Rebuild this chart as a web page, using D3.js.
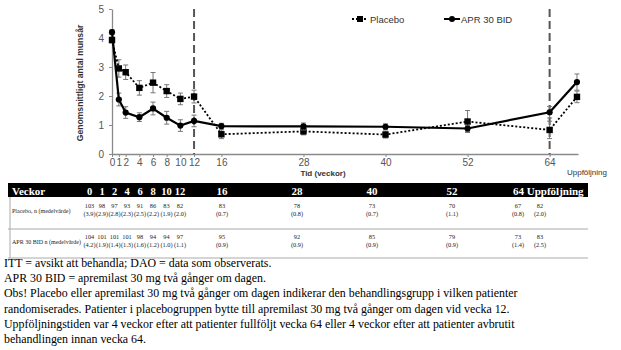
<!DOCTYPE html>
<html><head><meta charset="utf-8">
<script src="https://cdn.jsdelivr.net/npm/d3@7"></script>
<style>body{margin:0;background:#fff}svg{display:block}</style>
</head><body>
<svg id="c" width="621" height="350"></svg>
<script>
// ---- data ----
const weeks = [0,1,2,4,6,8,10,12,16,28,40,52,64,68];
const xTickValues = [0,1,2,4,6,8,10,12,16,28,40,52,64];
const followUpLabel = "Uppföljning";
const yTicks = [0,1,2,3,4,5];
const placeboMean = [3.93,2.95,2.82,2.28,2.46,2.17,1.90,1.98,0.68,0.78,0.67,1.12,0.83,1.97];
const placeboErr  = [0.10,0.30,0.25,0.25,0.35,0.22,0.20,0.22,0.15,0.12,0.12,0.38,0.30,0.20];
const aprMean     = [4.20,1.88,1.43,1.27,1.57,1.25,0.98,1.14,0.96,0.95,0.94,0.88,1.44,2.48];
const aprErr      = [0.08,0.22,0.20,0.15,0.22,0.22,0.20,0.20,0.10,0.12,0.10,0.10,0.20,0.28];
const dashedWeeks = [12,64];
const seriesNames = ["Placebo","APR 30 BID"];
const tableHeader = ["0","1","2","4","6","8","10","12","16","28","40","52","64 Uppföljning"];
const placeboN = ["103","98","97","93","91","86","83","82","83","78","73","70","67","82"];
const placeboTab = ["(3.9)","(2.9)","(2.8)","(2.3)","(2.5)","(2.2)","(1.9)","(2.0)","(0.7)","(0.8)","(0.7)","(1.1)","(0.8)","(2.0)"];
const aprN = ["104","101","101","101","98","94","94","97","95","92","85","79","73","83"];
const aprTab = ["(4.2)","(1.9)","(1.4)","(1.3)","(1.6)","(1.2)","(1.0)","(1.1)","(0.9)","(0.9)","(0.9)","(0.9)","(1.4)","(2.5)"];
const rowLabels = ["Placebo, n (medelvärde)","APR 30 BID n (medelvärde)"];
const footnotes = [
 "ITT = avsikt att behandla; DAO = data som observerats.",
 "APR 30 BID = apremilast 30 mg två gånger om dagen.",
 "Obs! Placebo eller apremilast 30 mg två gånger om dagen indikerar den behandlingsgrupp i vilken patienter",
 "randomiserades. Patienter i placebogruppen bytte till apremilast 30 mg två gånger om dagen vid vecka 12.",
 "Uppföljningstiden var 4 veckor efter att patienter fullföljt vecka 64 eller 4 veckor efter att patienter avbrutit",
 "behandlingen innan vecka 64."
];

// ---- chart ----
const svg = d3.select("#c");
const x = d3.scaleLinear().domain([0,68.15]).range([112,578]);
const y = d3.scaleLinear().domain([0,5]).range([154,9]);
const axisCol = "#8a8a8a", labCol = "#555";
const sans = "Arial, 'Liberation Sans', sans-serif";

const gx = svg.append("g").attr("transform","translate(0,154)")
  .call(d3.axisBottom(x).tickValues(xTickValues).tickSize(3).tickSizeOuter(0).tickPadding(2));
gx.select(".domain").attr("stroke",axisCol).attr("stroke-width",1.3);
gx.selectAll(".tick line").attr("stroke",axisCol);
gx.selectAll(".tick text").attr("fill",labCol).style("font-family",sans).style("font-size","10px");

const gy = svg.append("g").attr("transform","translate(112,0)")
  .call(d3.axisLeft(y).tickValues(yTicks).tickFormat(d3.format("d")).tickSize(3).tickSizeOuter(0).tickPadding(5));
gy.select(".domain").attr("stroke",axisCol).attr("stroke-width",1.3);
gy.selectAll(".tick line").attr("stroke",axisCol);
gy.selectAll(".tick text").attr("fill",labCol).style("font-family",sans).style("font-size","10px");

svg.append("text").attr("x",323).attr("y",176).attr("text-anchor","middle")
  .style("font-family",sans).style("font-size","8px").style("font-weight","bold").attr("fill","#333")
  .text("Tid (veckor)");
svg.append("text").attr("transform","translate(83,83) rotate(-90)").attr("text-anchor","middle")
  .style("font-family",sans).style("font-size","8.6px").style("font-weight","bold").attr("fill","#333")
  .text("Genomsnittligt antal munsår");
svg.append("text").attr("x",x(68)-10).attr("y",175)
  .style("font-family",sans).style("font-size","8px").attr("fill","#333").text(followUpLabel);

svg.selectAll(".vdash").data(dashedWeeks).join("line")
  .attr("x1",d=>x(d)).attr("x2",d=>x(d)).attr("y1",y(5)).attr("y2",y(0))
  .attr("stroke","#555").attr("stroke-width",2).attr("stroke-dasharray","8,4");

function drawSeries(mean, err, dash, marker){
  const pts = weeks.map((w,i)=>({w, m:mean[i], e:err[i]}));
  const g = svg.append("g");
  g.selectAll("line.eb").data(pts).join("line")
    .attr("x1",d=>x(d.w)).attr("x2",d=>x(d.w)).attr("y1",d=>y(d.m-d.e)).attr("y2",d=>y(d.m+d.e))
    .attr("stroke","#777").attr("stroke-width",1);
  [1,-1].forEach(s=>{
    g.selectAll(null).data(pts).join("line")
      .attr("x1",d=>x(d.w)-2.5).attr("x2",d=>x(d.w)+2.5).attr("y1",d=>y(d.m+s*d.e)).attr("y2",d=>y(d.m+s*d.e))
      .attr("stroke","#777").attr("stroke-width",1);
  });
  g.append("path").datum(pts)
    .attr("d",d3.line().x(d=>x(d.w)).y(d=>y(d.m)))
    .attr("fill","none").attr("stroke","#000").attr("stroke-width",dash?1.8:2.2)
    .attr("stroke-dasharray",dash?"2,2":null);
  if(marker==="square"){
    g.selectAll("rect").data(pts).join("rect")
      .attr("x",d=>x(d.w)-3.2).attr("y",d=>y(d.m)-3.2).attr("width",6.4).attr("height",6.4).attr("fill","#000");
  } else {
    g.selectAll("circle").data(pts).join("circle")
      .attr("cx",d=>x(d.w)).attr("cy",d=>y(d.m)).attr("r",3.1).attr("fill","#000");
  }
}
drawSeries(placeboMean, placeboErr, true, "square");
drawSeries(aprMean, aprErr, false, "circle");

// legend
const lg = svg.append("g");
lg.append("line").attr("x1",352).attr("x2",368).attr("y1",19).attr("y2",19)
  .attr("stroke","#000").attr("stroke-width",1.8).attr("stroke-dasharray","2,2");
lg.append("rect").attr("x",357).attr("y",16).attr("width",6).attr("height",6).attr("fill","#000");
lg.append("text").attr("x",370).attr("y",22.5).style("font-family",sans).style("font-size","9.5px").attr("fill","#333").text(seriesNames[0]);
lg.append("line").attr("x1",444).attr("x2",460).attr("y1",19).attr("y2",19).attr("stroke","#000").attr("stroke-width",2);
lg.append("circle").attr("cx",452).attr("cy",19).attr("r",3).attr("fill","#000");
lg.append("text").attr("x",461).attr("y",22.5).style("font-family",sans).style("font-size","9.5px").attr("fill","#333").text(seriesNames[1]);

// ---- table ----
const serif = "'Liberation Serif', 'Times New Roman', serif";
const colX = [89.5,102,114.5,127,140,153,166.5,180,222,297,372,452,518,540];
const hdrX = colX.slice(0,12).concat([513]);
svg.append("rect").attr("x",8).attr("y",183).attr("width",580).attr("height",14).attr("fill","#000");
svg.append("text").attr("x",12).attr("y",194.5).style("font-family",serif).style("font-size","11px")
  .style("font-weight","bold").attr("fill","#fff").text("Veckor");
svg.selectAll(".hdr").data(tableHeader).join("text")
  .attr("x",(d,i)=>hdrX[i]).attr("y",194.5).attr("text-anchor",(d,i)=>i===12?"start":"middle")
  .style("font-family",serif).style("font-size",(d,i)=>i<8?"10.5px":"11px").style("font-weight","bold").attr("fill","#fff").text(d=>d);
const gridCol = "#aaa";
svg.append("line").attr("x1",10).attr("x2",10).attr("y1",197).attr("y2",258).attr("stroke",gridCol);
svg.append("line").attr("x1",8).attr("x2",588).attr("y1",229).attr("y2",229).attr("stroke",gridCol);
svg.append("line").attr("x1",8).attr("x2",588).attr("y1",258).attr("y2",258).attr("stroke",gridCol);

const rows = [{n:placeboN, m:placeboTab, y:207.5, ly:213}, {n:aprN, m:aprTab, y:238.5, ly:243.5}];
rows.forEach((r,ri)=>{
  svg.append("text").attr("x",12).attr("y",r.ly).style("font-family",serif).style("font-size","6px")
    .attr("fill","#222").text(rowLabels[ri]);
  svg.selectAll(null).data(r.n).join("text").attr("x",(d,i)=>colX[i]).attr("y",r.y).attr("text-anchor","middle")
    .style("font-family",serif).style("font-size","6.3px").attr("fill","#222").text(d=>d);
  svg.selectAll(null).data(r.m).join("text").attr("x",(d,i)=>colX[i]).attr("y",r.y+8.5).attr("text-anchor","middle")
    .style("font-family",serif).style("font-size","6.3px").attr("fill","#222").text(d=>d);
});

// footnotes
svg.selectAll(".fn").data(footnotes).join("text")
  .attr("x",4).attr("y",(d,i)=>267+i*15.2)
  .style("font-family",serif).style("font-size","11.9px").attr("fill","#000").text(d=>d);
</script>
</body></html>
